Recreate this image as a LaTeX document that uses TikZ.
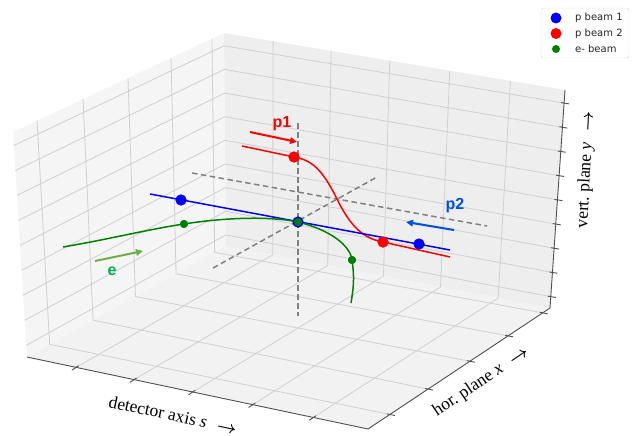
\documentclass[tikz,border=0pt]{standalone}
\usepackage{fontspec}
\setmainfont{Liberation Serif}
\newfontfamily\legfont{DejaVu Sans}
\newfontfamily\lblfont{Liberation Sans}
\usetikzlibrary{calc,arrows.meta}
\definecolor{gridc}{HTML}{D0D0D0}
\definecolor{axc}{HTML}{505050}
\definecolor{dashc}{HTML}{808080}
\definecolor{paneL}{HTML}{F5F5F5}
\definecolor{paneR}{HTML}{EEEEEE}
\definecolor{paneF}{HTML}{F2F2F2}
\definecolor{legc}{HTML}{D5D5D5}
\definecolor{pblue}{RGB}{0,0,255}
\definecolor{pred}{RGB}{255,0,0}
\definecolor{egreen}{RGB}{0,128,0}
\definecolor{ptwoc}{RGB}{0,80,230}
\definecolor{elbl}{RGB}{0,176,80}
\definecolor{earr}{RGB}{112,173,71}
\newcommand{\dirarrow}{\mbox{\boldmath$\rightarrow$}}
\begin{document}
\begin{tikzpicture}[x=1pt,y=-1pt,
  grid/.style={draw=gridc,line width=0.8pt},
  axisline/.style={draw=axc,line width=0.9pt},
  tickmark/.style={draw=axc,line width=0.9pt},
  beam/.style={line width=1.5pt},
  dashaxis/.style={draw=dashc,line width=1.5pt,dash pattern=on 5.5pt off 3.5pt},
  dotbig/.style={circle,inner sep=0pt,minimum size=11pt},
  dotsmall/.style={circle,inner sep=0pt,minimum size=8pt},
  beamarrow/.style={line width=2pt,-{Triangle[length=7pt,width=6.5pt]}},
  beamlabel/.style={font=\lblfont\bfseries\fontsize{16}{16}\selectfont,inner sep=0pt},
  axlabel/.style={font=\fontsize{17.5}{17.5}\selectfont,inner sep=0pt},
  legtext/.style={font=\legfont\fontsize{10}{10}\selectfont,text=black!85,anchor=west,inner sep=0pt}
]
\useasboundingbox (0,0) rectangle (634,436);
% box corners
\coordinate (B) at (27,357);
\coordinate (A) at (368,429);
\coordinate (C) at (550,308);
\coordinate (D) at (226,246);
\coordinate (Bt) at (13,132);
\coordinate (Dt) at (224,33);
\coordinate (Ct) at (565,90);
% panes
\fill[paneL] (B) -- (Bt) -- (Dt) -- (D) -- cycle;
\fill[paneR] (D) -- (Dt) -- (Ct) -- (C) -- cycle;
\fill[paneF] (B) -- (D) -- (C) -- (A) -- cycle;
% horizontal grid lines on the walls
\foreach \t in {0.060,0.171,0.282,0.393,0.504,0.615,0.726,0.837,0.948}
  \draw[grid] ($(Bt)!\t!(B)$) -- ($(Dt)!\t!(D)$) -- ($(Ct)!\t!(C)$);
% constant x lines (left wall + floor)
\foreach \f/\g in {0.114/0.12,0.332/0.33,0.545/0.56,0.749/0.77,0.943/0.96}
  \draw[grid] ($(Bt)!\f!(Dt)$) -- ($(B)!\f!(D)$) -- ($(A)!\g!(C)$);
% constant s lines (right wall + floor)
\foreach \f in {0.144,0.314,0.486,0.662,0.84}
  \draw[grid] ($(Dt)!\f!(Ct)$) -- ($(D)!\f!(C)$) -- ($(B)!\f!(A)$);
% axis lines
\draw[axisline] (B) -- (A) -- (C) -- (Ct);
% ticks
\foreach \f in {0.144,0.314,0.486,0.662,0.84}
  \draw[tickmark] ($(B)!\f!(A)+(2.5,-1.7)$) -- ($(B)!\f!(A)+(-4.2,2.8)$);
\foreach \g in {0.12,0.33,0.56,0.77,0.96}
  \draw[tickmark] ($(A)!\g!(C)+(-3,-0.6)$) -- ($(A)!\g!(C)+(5,1)$);
\foreach \t in {0.060,0.171,0.282,0.393,0.504,0.615,0.726,0.837,0.948}
  \draw[tickmark] ($(Ct)!\t!(C)+(-3,-0.5)$) -- ($(Ct)!\t!(C)+(5,0.8)$);
% dashed reference axes
\coordinate (dv0) at (298,123); \coordinate (dv1) at (298,316);
\coordinate (ds0) at (192,173); \coordinate (ds1) at (487,226);
\coordinate (dx0) at (213,268); \coordinate (dx1) at (377,177);
\draw[dashaxis] (dv0) -- (dv1);
\draw[dashaxis] (ds0) -- (ds1);
\draw[dashaxis] (dx0) -- (dx1);
% dots (nodes)
\node[dotbig,fill=pred] (rd1) at (294,157) {};
\node[dotbig,fill=pred] (rd2) at (383,242) {};
\node[dotbig,fill=pblue] (bd1) at (181,200) {};
\node[dotbig,fill=pblue] (bd2) at (419,244) {};
\node[dotbig,fill=pblue] (ipb) at (298,222) {};
\node[dotsmall,fill=egreen] (gd1) at (184,224) {};
\node[dotsmall,fill=egreen] (gd2) at (352,260) {};
% beams
\coordinate (r0) at (242,146); \coordinate (r1) at (450,257);
\coordinate (b0) at (150,194); \coordinate (b1) at (450,250);
\coordinate (g0) at (63,247); \coordinate (g1) at (351,303);
\draw[beam,pred] (r0) -- (rd1.center) .. controls (312,160) and (322,170) .. (335,195)
   .. controls (348,222) and (360,238) .. (rd2.center) -- (r1);
\draw[beam,pblue] (b0) -- (b1);
\draw[beam,egreen] (g0) .. controls (110,239) and (150,229) .. (gd1.center)
   .. controls (215,219) and (265,215) .. (ipb.center)
   .. controls (330,230) and (350,245) .. (gd2.center)
   .. controls (355,280) and (353,290) .. (g1);
% redraw dots on top
\node[dotbig,fill=pred] at (rd1) {};
\node[dotbig,fill=pred] at (rd2) {};
\node[dotbig,fill=pblue] at (bd1) {};
\node[dotbig,fill=pblue] at (bd2) {};
\node[dotbig,fill=pblue] at (ipb) {};
\node[dotsmall,fill=egreen] (ipg) at (ipb) {};
\node[dotsmall,fill=egreen] at (gd1) {};
\node[dotsmall,fill=egreen] at (gd2) {};
% beam direction arrows and labels
\coordinate (p1a) at (250,132); \coordinate (p1b) at (297,142);
\draw[beamarrow,pred] (p1a) -- (p1b);
\node[beamlabel,text=pred] (p1lbl) at (282,124) {p1};
\coordinate (p2a) at (454,230); \coordinate (p2b) at (406,222);
\draw[beamarrow,ptwoc] (p2a) -- (p2b);
\node[beamlabel,text=ptwoc] (p2lbl) at (455,206) {p2};
\coordinate (ea) at (95,261); \coordinate (eb) at (143,251);
\draw[beamarrow,earr] (ea) -- (eb);
\node[beamlabel,text=elbl] (elbl) at (112,271) {e};
% axis labels
\node[axlabel,rotate=-12] (slabel) at (173,415) {detector axis \textit{s}\hspace{0.6em}\dirarrow};
\node[axlabel,rotate=34] (xlabel) at (481,382) {hor.\ plane \textit{x}\hspace{0.6em}\dirarrow};
\node[axlabel,rotate=87] (ylabel) at (586,170) {vert.\ plane \textit{y}\hspace{0.6em}\dirarrow};
% legend
\node[draw=legc,fill=white,rounded corners=2.5pt,minimum width=88pt,minimum height=50pt,inner sep=0pt] (legend) at (585,33) {};
\node[dotbig,fill=pblue] (lg1) at (556,18) {};
\node[legtext] (lt1) at (575,18) {p beam 1};
\node[dotbig,fill=pred] (lg2) at (556,33.5) {};
\node[legtext] (lt2) at (575,33.5) {p beam 2};
\node[dotsmall,fill=egreen] (lg3) at (556,49) {};
\node[legtext] (lt3) at (575,49) {e- beam};
\end{tikzpicture}
\end{document}
